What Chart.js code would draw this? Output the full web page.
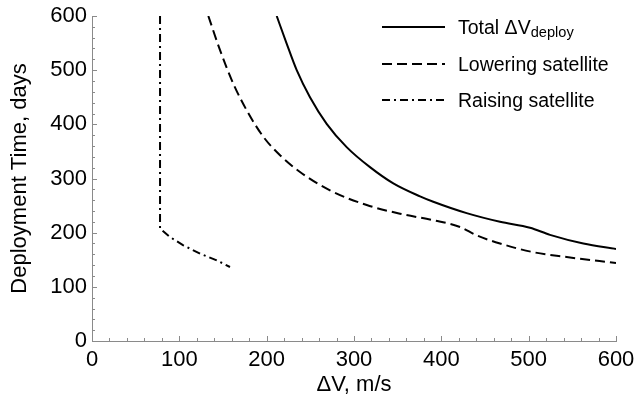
<!DOCTYPE html>
<html><head><meta charset="utf-8">
<script src="https://cdn.jsdelivr.net/npm/chart.js@4"></script>
<style>
html,body{margin:0;padding:0;background:#fff;}
#wrap{position:relative;width:636px;height:402px;}
#legend{position:absolute;left:0;top:0;width:0;height:0;font-family:"Liberation Sans",Arial,sans-serif;font-size:19.5px;color:#000;}
.row{position:absolute;display:flex;align-items:center;white-space:nowrap;height:24px;line-height:24px;}
.row svg{display:block;flex:none;}
.row span{margin-left:13px;}
.row sub{font-size:0.75em;vertical-align:-3px;line-height:0;}
</style></head>
<body>
<div id="wrap"><canvas id="c" width="636" height="402"></canvas><div id="legend"></div></div>
<script>
// ---- data ----
const totalDV   = [211.5, 222.9, 234.4, 249.6, 268.7, 291.6, 318.3, 345.0, 375.6, 390.8, 429.0, 467.2, 501.5, 524.4, 562.6, 600.0];
const totalDays = [600,   549,   500,   450,   401,   358,   321,   291,   267,   257,   236,   220,   209,   196,   180,   170];

const lowerDV   = [133.2, 146.6, 161.8, 177.1, 196.2, 215.3, 238.2, 272.5, 314.6, 352.7, 390.8, 421.4, 440.5, 467.2, 505.3, 543.5, 600.0];
const lowerDays = [600,   537,   475,   426,   377,   343,   312,   278,   251,   235,   223,   210.5, 195,   180,   164,   155,   144];

const raiseDV   = [77.9, 77.9,  89.3, 104.6, 123.7, 142.8, 158.0];
const raiseDays = [600,  207.5, 192,  176.7, 161.3, 149,   136.6];

const seriesNames = ['Total \u0394V', 'Lowering satellite', 'Raising satellite'];
const seriesSubs  = ['deploy', '', ''];

const xTitle = '\u0394V, m/s';
const yTitle = 'Deployment Time, days';
const axisMin = 0, axisMax = 600, majorStep = 100, minorStep = 20;

const toPts = (xs, ys) => xs.map((x, i) => ({x, y: ys[i]}));

const FONT = '"Liberation Sans", Arial, sans-serif';
const AXIS_GREY = '#8a8a8a';

// inward Mathematica-style ticks (major + minor), positioned through the scales
const innerTicks = {
  id: 'innerTicks',
  afterDraw(chart) {
    const {ctx, chartArea} = chart;
    const xs = chart.scales.x, ys = chart.scales.y;
    ctx.save();
    ctx.strokeStyle = AXIS_GREY;
    ctx.lineWidth = 1;
    for (let v = xs.min; v <= xs.max + 1e-9; v += minorStep) {
      const px = Math.round(xs.getPixelForValue(v)) + 0.5;
      const len = (Math.round(v) % majorStep === 0) ? 5 : 3;
      ctx.beginPath(); ctx.moveTo(px, chartArea.bottom); ctx.lineTo(px, chartArea.bottom - len); ctx.stroke();
    }
    for (let v = ys.min; v <= ys.max + 1e-9; v += minorStep) {
      const py = Math.round(ys.getPixelForValue(v)) + 0.5;
      const len = (Math.round(v) % majorStep === 0) ? 5 : 3;
      ctx.beginPath(); ctx.moveTo(chartArea.left, py); ctx.lineTo(chartArea.left + len, py); ctx.stroke();
    }
    ctx.restore();
  }
};

// HTML legend (allows the subscript), built from the datasets
const htmlLegend = {
  id: 'htmlLegend',
  afterUpdate(chart) {
    const box = document.getElementById('legend');
    box.innerHTML = '';
    const rowCenters = [27, 63.5, 100];
    chart.data.datasets.forEach((ds, i) => {
      const row = document.createElement('div');
      row.className = 'row';
      row.style.left = '382px';
      row.style.top = (rowCenters[i] - 12) + 'px';
      const ns = 'http://www.w3.org/2000/svg';
      const svg = document.createElementNS(ns, 'svg');
      svg.setAttribute('width', '63'); svg.setAttribute('height', '10');
      const ln = document.createElementNS(ns, 'line');
      ln.setAttribute('x1', '0'); ln.setAttribute('x2', '63');
      ln.setAttribute('y1', '5'); ln.setAttribute('y2', '5');
      ln.setAttribute('stroke', ds.borderColor);
      ln.setAttribute('stroke-width', ds.borderWidth);
      if (ds.borderDash && ds.borderDash.length) ln.setAttribute('stroke-dasharray', ds.borderDash.join(','));
      svg.appendChild(ln);
      row.appendChild(svg);
      const sp = document.createElement('span');
      sp.textContent = seriesNames[i];
      if (seriesSubs[i]) {
        const sb = document.createElement('sub');
        sb.textContent = seriesSubs[i];
        sp.appendChild(sb);
      }
      row.appendChild(sp);
      box.appendChild(row);
    });
  }
};

new Chart(document.getElementById('c'), {
  type: 'line',
  data: {
    datasets: [
      { label: seriesNames[0] + seriesSubs[0], data: toPts(totalDV, totalDays),
        borderColor: '#000', borderWidth: 2, borderDash: [], cubicInterpolationMode: 'monotone' },
      { label: seriesNames[1], data: toPts(lowerDV, lowerDays),
        borderColor: '#000', borderWidth: 2, borderDash: [10, 5], cubicInterpolationMode: 'monotone' },
      { label: seriesNames[2], data: toPts(raiseDV, raiseDays),
        borderColor: '#000', borderWidth: 2, borderDash: [8, 4, 2, 4], tension: 0 }
    ]
  },
  options: {
    responsive: false,
    animation: false,
    events: [],
    layout: { padding: { top: 16, right: 20, left: 0, bottom: 0 } },
    elements: { point: { radius: 0 } },
    plugins: { legend: { display: false }, tooltip: { enabled: false } },
    scales: {
      x: {
        type: 'linear', min: axisMin, max: axisMax,
        ticks: { stepSize: majorStep, color: '#000', padding: 6, maxRotation: 0,
                 font: { family: FONT, size: 22 } },
        grid: { display: false, drawTicks: false },
        border: { display: true, color: AXIS_GREY, width: 1 },
        title: { display: true, text: xTitle, color: '#000', padding: { top: 0, bottom: 4 },
                 font: { family: FONT, size: 22 } },
        afterFit(scale) { scale.height = 61; scale.paddingLeft = 0; scale.paddingRight = 0; }
      },
      y: {
        type: 'linear', min: axisMin, max: axisMax,
        ticks: { stepSize: majorStep, color: '#000', padding: 5,
                 font: { family: FONT, size: 22 } },
        grid: { display: false, drawTicks: false },
        border: { display: true, color: AXIS_GREY, width: 1 },
        title: { display: true, text: yTitle, color: '#000', padding: { top: 7, bottom: 0 },
                 font: { family: FONT, size: 22 } },
        afterFit(scale) { scale.width = 92; scale.paddingTop = 0; scale.paddingBottom = 0; }
      }
    }
  },
  plugins: [innerTicks, htmlLegend]
});
</script>
</body></html>
